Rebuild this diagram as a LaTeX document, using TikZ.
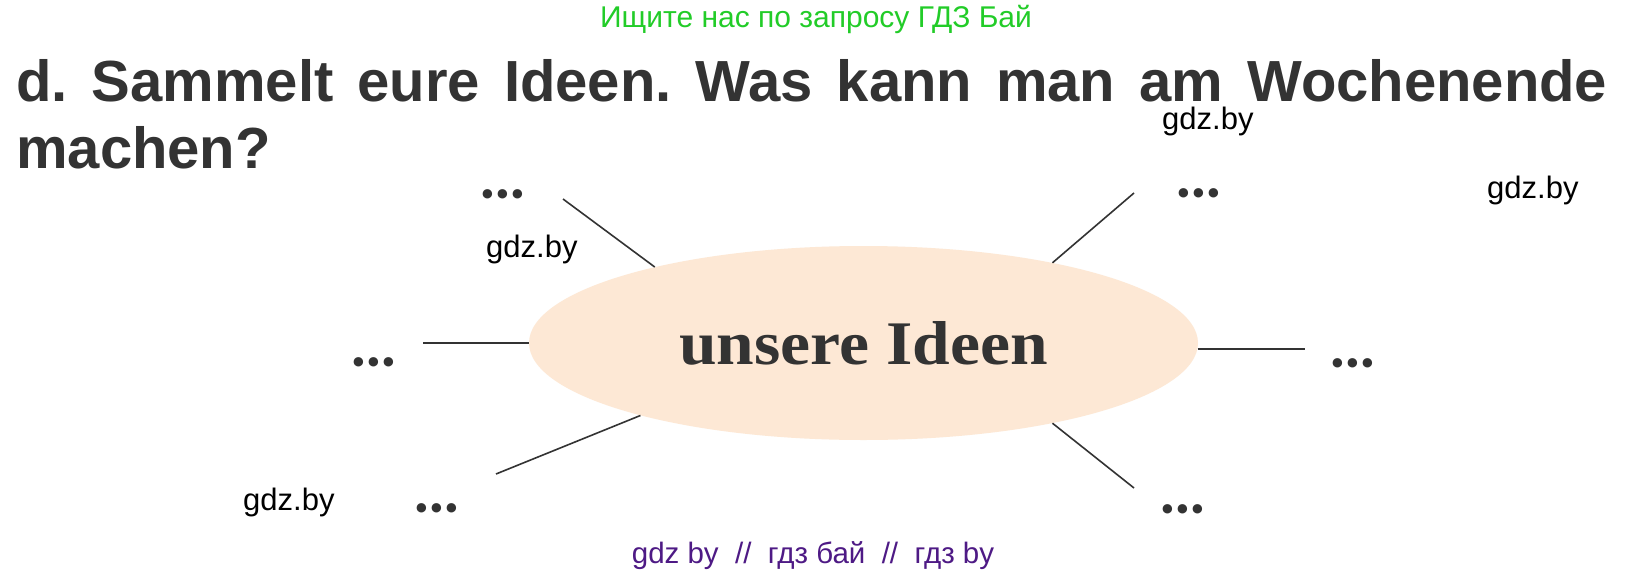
\documentclass[tikz,border=0pt]{standalone}
\usepackage{fontspec}
\setmainfont{Liberation Sans}
\newfontfamily\seriffont{Liberation Serif}
\newfontfamily\dotfont{Lato}
\usetikzlibrary{shapes.geometric}
\definecolor{ink}{HTML}{333333}
\definecolor{peach}{HTML}{FDE8D5}
\definecolor{topgreen}{RGB}{34,204,40}
\definecolor{wmpurple}{RGB}{78,26,133}
\frenchspacing
\tikzset{
  conn/.style={draw=ink, line width=1.6pt},
  dotsnode/.style={inner sep=0, anchor=base, text=ink, font=\dotfont\bfseries\fontsize{62}{62}\selectfont},
  wm/.style={inner sep=0, anchor=base west, text=black, font=\fontsize{31}{31}\selectfont},
  titleline/.style={inner sep=0, anchor=base west, text=ink, font=\bfseries\fontsize{58}{67}\selectfont},
}
\begin{document}
\begin{tikzpicture}[x=1pt,y=-1pt]
\useasboundingbox[fill=white] (0,0) rectangle (1631,573);
% header
\node[inner sep=0, anchor=base, text=topgreen, font=\fontsize{30}{30}\selectfont] (top) at (816,27) {Ищите нас по запросу ГДЗ Бай};
\node[titleline] (t1) at (16,101) {\makebox[1591pt][s]{d. Sammelt eure Ideen. Was kann man am Wochenende}};
\node[titleline] (t2) at (16,168) {machen?};
% central ellipse
\node[ellipse, fill=peach, minimum width=669pt, minimum height=194pt, inner sep=0,
      text=ink, font=\seriffont\bfseries\fontsize{62}{62}\selectfont] (E) at (863.5,343) {\scalebox{1.09}[1]{unsere Ideen}};
% free ends
\coordinate (eUL) at (563,199);
\coordinate (eL)  at (423,343);
\coordinate (eLL) at (496,474);
\coordinate (eUR) at (1134,193);
\coordinate (eR)  at (1305,347);
\coordinate (eLR) at (1134,488);
\draw[conn] (E.160.5) -- (eUL);
\draw[conn] (E.180) -- (eL);
\draw[conn] (E.198.9) -- (eLL);
\draw[conn] (E.23.9) -- (eUR);
\draw[conn] (E.359.3) -- (E.359.3 -| eR);
\draw[conn] (E.337.7) -- (eLR);
% dots
\node[dotsnode] (dUL) at (503,198.5) {...};
\node[dotsnode] (dL)  at (374,366.5) {...};
\node[dotsnode] (dLL) at (437,512.5) {...};
\node[dotsnode] (dUR) at (1199,197.5) {...};
\node[dotsnode] (dR)  at (1353,367.5) {...};
\node[dotsnode] (dLR) at (1183,513.5) {...};
% watermarks
\node[wm] (w1) at (486,257) {gdz.by};
\node[wm] (w2) at (1162,129) {gdz.by};
\node[wm] (w3) at (1487,198) {gdz.by};
\node[wm] (w4) at (243,510) {gdz.by};
\node[inner sep=0, anchor=base, text=wmpurple, font=\fontsize{29.5}{29.5}\selectfont] (bottom) at (813,563) {gdz by\ \ //\ \ гдз бай\ \ //\ \ гдз by};
\end{tikzpicture}
\end{document}
